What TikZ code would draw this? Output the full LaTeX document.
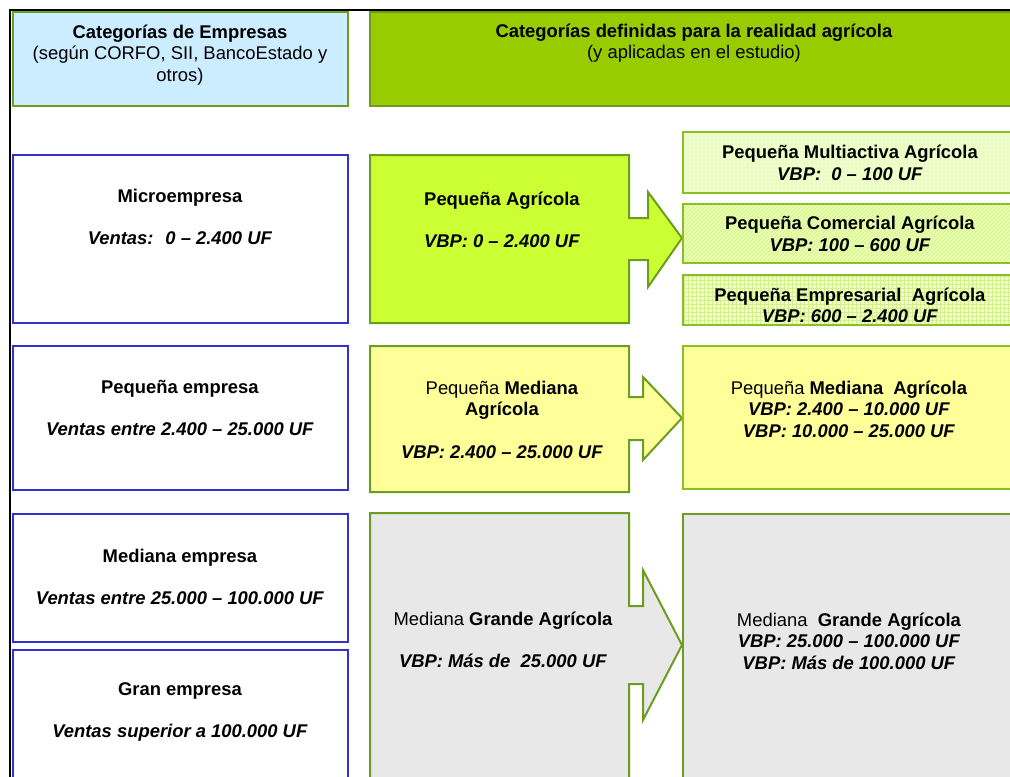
\documentclass[tikz,border=0pt]{standalone}
\usepackage{fontspec}
\setmainfont{Liberation Sans}
\usetikzlibrary{patterns}
\definecolor{celeste}{HTML}{CCECFF}
\definecolor{verdecab}{HTML}{99CC00}
\definecolor{verdeoscuro}{HTML}{6E9B1A}
\definecolor{verdeborde}{HTML}{6B9E1F}
\definecolor{verdeclaro}{HTML}{8CBF26}
\definecolor{azulborde}{HTML}{3333CC}
\definecolor{verdelima}{HTML}{CCFF33}
\definecolor{amarillo}{HTML}{FFFF99}
\definecolor{gris}{HTML}{E8E8E8}
\definecolor{verdepalido}{HTML}{EEFFCC}
\definecolor{verdetrama}{HTML}{D4F08A}

\begin{document}
\begin{tikzpicture}[x=0.75pt,y=-0.75pt,
    texto/.style={align=center,inner sep=0pt,font=\fontsize{13.8}{16}\selectfont},
    cajaazul/.style={draw=azulborde,line width=1.5pt,fill=white},
    flecha/.style={draw=verdeborde,line width=1.5pt,line join=miter},
    cajaverde/.style={draw=verdeclaro,line width=1.5pt}]
\useasboundingbox (0,0) rectangle (1010,776);
\clip (0,0) rectangle (1010,776);
\draw[line width=2pt] (10,10) rectangle (1040,800);

\draw[fill=celeste,draw=verdeborde,line width=1.5pt] (13,12) rectangle (348,106);
\draw[fill=verdecab,draw=verdeoscuro,line width=1.5pt] (370,12) rectangle (1040,106);
\node[texto] (cabempresas) at (180,55) {\textbf{Categorías de Empresas}\\(según CORFO, SII, BancoEstado y\\otros)};
\node[texto] (cabagricola) at (694,43) {\textbf{Categorías definidas para la realidad agrícola}\\(y aplicadas en el estudio)};

\draw[cajaazul] (13,155) rectangle (348,323);
\draw[cajaazul] (13,346) rectangle (348,490);
\draw[cajaazul] (13,514) rectangle (348,642);
\draw[cajaazul] (13,650) rectangle (348,790);
\node[texto] (micro) at (180,217) {\textbf{Microempresa}\\[16pt]\textbf{\textit{Ventas:~ 0 -- 2.400 UF}}};
\node[texto] (pequena) at (180,408) {\textbf{Pequeña empresa}\\[16pt]\textbf{\textit{Ventas entre 2.400 -- 25.000 UF}}};
\node[texto] (mediana) at (180,577) {\textbf{Mediana empresa}\\[16pt]\textbf{\textit{Ventas entre 25.000 -- 100.000 UF}}};
\node[texto] (gran) at (180,712) {\textbf{Gran empresa}\\[16pt]\textbf{\textit{Ventas superior a 100.000 UF}}};

\draw[flecha,fill=verdelima] (370,155) -- (629,155) -- (629,218) -- (648,218) -- (648,192) -- (682,238)
    -- (648,287) -- (648,260) -- (629,260) -- (629,323) -- (370,323) -- cycle;
\draw[flecha,fill=amarillo] (370,346) -- (629,346) -- (629,397) -- (643,397) -- (643,377) -- (682,418)
    -- (643,460) -- (643,440) -- (629,440) -- (629,492) -- (370,492) -- cycle;
\draw[flecha,fill=gris] (370,790) -- (370,513) -- (629,513) -- (629,606) -- (643,606) -- (643,570) -- (682,645)
    -- (643,720) -- (643,684) -- (629,684) -- (629,790);
\node[texto] (pagricola) at (502,220) {\textbf{Pequeña Agrícola}\\[16pt]\textbf{\textit{VBP: 0 -- 2.400 UF}}};
\node[texto] (pmediana) at (502,420) {Pequeña \textbf{Mediana}\\\textbf{Agrícola}\\[16pt]\textbf{\textit{VBP: 2.400 -- 25.000 UF}}};
\node[texto] (mgrande) at (503,640) {Mediana \textbf{Grande Agrícola}\\[16pt]\textbf{\textit{VBP: Más de~ 25.000 UF}}};

\draw[cajaverde,preaction={fill=verdepalido},pattern=dots,pattern color=verdetrama] (683,132) rectangle (1040,193);
\draw[cajaverde,preaction={fill=verdepalido!80!verdelima},pattern=north east lines,pattern color=verdetrama] (683,204) rectangle (1040,263);
\draw[cajaverde,preaction={fill=verdepalido},pattern=grid,pattern color=verdetrama] (683,275) rectangle (1040,325);
\draw[cajaverde,fill=amarillo] (683,346) rectangle (1040,489);
\draw[cajaverde,draw=verdeborde,fill=gris] (683,514) rectangle (1040,790);
\node[texto] (multiactiva) at (850,163) {\textbf{Pequeña Multiactiva Agrícola}\\\textbf{\textit{VBP:~ 0 -- 100 UF}}};
\node[texto] (comercial) at (850,234) {\textbf{Pequeña Comercial Agrícola}\\\textbf{\textit{VBP: 100 -- 600 UF}}};
\node[texto] (empresarial) at (850,305) {\textbf{Pequeña Empresarial~ Agrícola}\\\textbf{\textit{VBP: 600 -- 2.400 UF}}};
\node[texto] (pmedianaagr) at (849,409) {Pequeña \textbf{Mediana~ Agrícola}\\\textbf{\textit{VBP: 2.400 -- 10.000 UF}}\\\textbf{\textit{VBP: 10.000 -- 25.000 UF}}};
\node[texto] (mgrandeagr) at (849,641) {Mediana~ \textbf{Grande Agrícola}\\\textbf{\textit{VBP: 25.000 -- 100.000 UF}}\\\textbf{\textit{VBP: Más de 100.000 UF}}};
\end{tikzpicture}
\end{document}
